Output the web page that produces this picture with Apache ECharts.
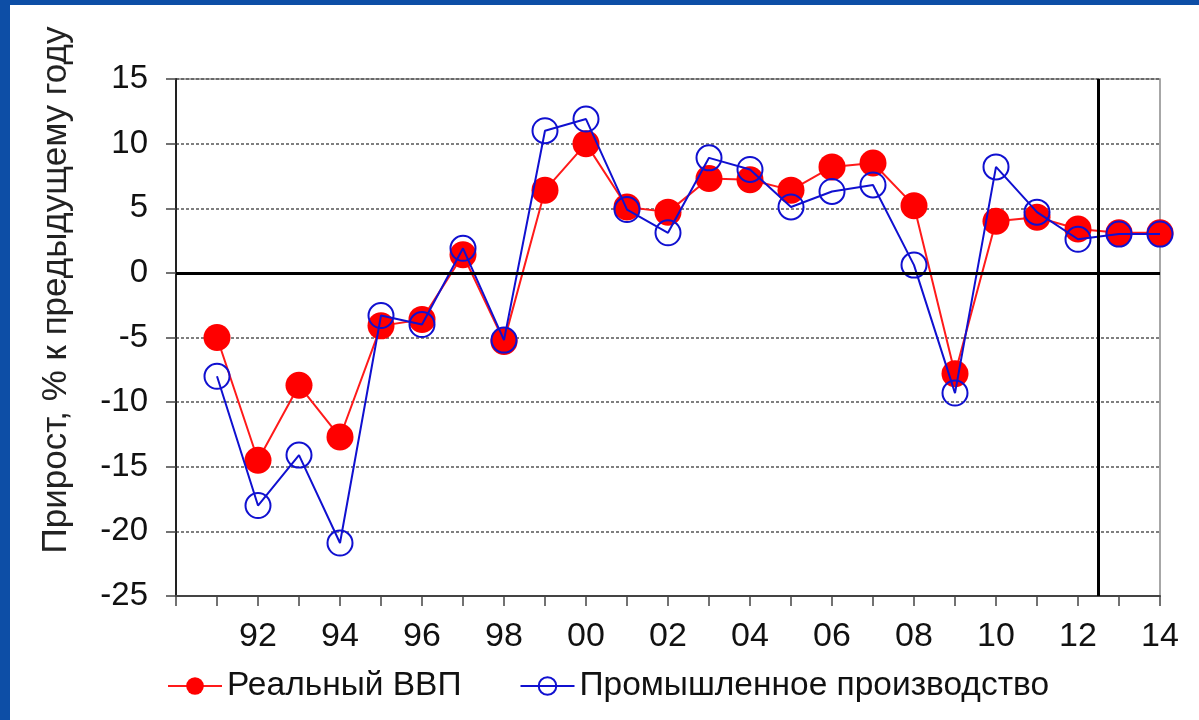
<!DOCTYPE html>
<html>
<head>
<meta charset="utf-8">
<script src="https://cdn.jsdelivr.net/npm/echarts@6/dist/echarts.min.js"></script>
<style>html,body{margin:0;padding:0;background:#0d4ea6;}#c{width:1199px;height:720px;}</style>
</head>
<body>
<div id="c"></div>
<script>
const years = [1991,1992,1993,1994,1995,1996,1997,1998,1999,2000,2001,2002,2003,2004,2005,2006,2007,2008,2009,2010,2011,2012,2013,2014];
const gdp = [-5.0,-14.5,-8.7,-12.7,-4.1,-3.6,1.4,-5.3,6.4,10.0,5.1,4.7,7.3,7.2,6.4,8.2,8.5,5.2,-7.8,4.0,4.3,3.4,3.1,3.1];
const industry = [-8.0,-18.0,-14.1,-20.9,-3.3,-4.0,1.9,-5.2,11.0,11.9,4.9,3.1,8.9,8.0,5.1,6.3,6.8,0.6,-9.3,8.2,4.7,2.6,3.0,3.0];
const seriesNames = ['Реальный ВВП','Промышленное производство'];
const yTitle = 'Прирост, % к предыдущему году';
const forecastStart = 2012.5;

const font = "'Liberation Sans', Arial, sans-serif";
const chart = echarts.init(document.getElementById('c'));
chart.setOption({
  backgroundColor: '#0d4ea6',
  animation: false,
  graphic: [
    {type:'rect', shape:{x:10,y:5,width:1189,height:715}, style:{fill:'#ffffff'}, z:-10},
    {type:'text', rotation: Math.PI/2, position:[56,290], style:{text: yTitle, font: "35px " + font, fill:'#222', textAlign:'center', textVerticalAlign:'middle'}}
  ],
  grid: {left:176, right:39, top:79, bottom:124, show:true, backgroundColor:'#fff', borderColor:'#8a8a8a', borderWidth:1.5},
  legend: {
    left: 162, top: 664, itemWidth: 54, itemHeight: 22, itemGap: 58,
    textStyle: {fontFamily: font, fontSize: 33.5, color:'#111'},
    data: seriesNames
  },
  xAxis: {
    type:'value', min:1990, max:2014, interval:1,
    axisLine:{show:true, onZero:false, lineStyle:{color:'#444', width:2}},
    axisTick:{show:true, length:10, lineStyle:{color:'#444', width:1.5}},
    splitLine:{show:false},
    axisLabel:{margin:24, fontFamily:font, fontSize:34, color:'#111',
      formatter: v => (v % 2 === 0 && v !== 1990) ? String(v % 100).padStart(2,'0') : ''}
  },
  yAxis: {
    type:'value', min:-25, max:15, interval:5,
    axisLine:{show:true, lineStyle:{color:'#222', width:2}},
    axisTick:{show:true, length:10, lineStyle:{color:'#444', width:1.5}},
    splitLine:{show:true, lineStyle:{color:'#555', width:1.5, type:[3,2]}},
    axisLabel:{margin:28, fontFamily:font, fontSize:33, color:'#111'}
  },
  series: [
    {
      name: seriesNames[0], type:'line',
      data: years.map((y,i)=>[y, gdp[i]]),
      symbol:'circle', symbolSize:27,
      itemStyle:{color:'#ff0000'},
      lineStyle:{color:'#ff1a1a', width:2},
      markLine:{
        silent:true, symbol:'none', label:{show:false},
        lineStyle:{color:'#000', width:3, type:'solid'},
        data:[{yAxis:0},{xAxis:forecastStart}]
      },
      z:2
    },
    {
      name: seriesNames[1], type:'line',
      data: years.map((y,i)=>[y, industry[i]]),
      symbol:'circle', symbolSize:25,
      itemStyle:{color:'rgba(255,255,255,0)', borderColor:'#1010d0', borderWidth:2},
      lineStyle:{color:'#1010d0', width:2},
      z:3
    }
  ]
});
</script>
</body>
</html>
